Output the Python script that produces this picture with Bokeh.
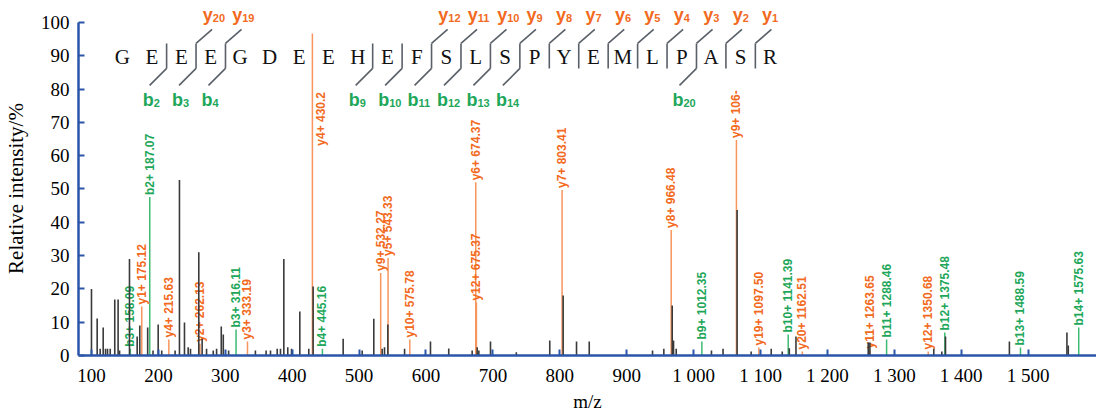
from bokeh.plotting import figure
from bokeh.models import Range1d, FixedTicker
from bokeh.core.properties import value
from bokeh.embed import file_html
from bokeh.resources import INLINE
import math

# ---------------- data ----------------
x_ticks = [100, 200, 300, 400, 500, 600, 700, 800, 900, 1000, 1100, 1200, 1300, 1400, 1500]
x_tick_labels = ["100", "200", "300", "400", "500", "600", "700", "800", "900",
                 "1 000", "1 100", "1 200", "1 300", "1 400", "1 500"]
y_ticks = [0, 10, 20, 30, 40, 50, 60, 70, 80, 90, 100]

# unannotated / raw peaks (m/z, relative intensity %)
peak_mz = [100, 108.5, 113, 117.5, 121, 124, 128, 134.8, 139.8, 142, 156.8, 168.3, 172.2,
           184, 192, 199.7, 205, 225, 231.5, 239, 244.5, 248, 260.4, 265.4, 272, 282, 287,
           294, 297, 305, 345, 361, 367.6, 377.6, 382.5, 387.5, 393.4, 399, 411.4, 424.8,
           431.3, 476.2, 504.6, 522, 534.5, 538, 543, 568, 606.7, 634, 669, 676.5, 679,
           696.4, 735, 785, 805, 825, 844, 938.6, 955.5, 968, 970, 974, 1026.7, 1044,
           1065, 1086, 1116, 1132.5, 1143, 1153, 1261, 1263.5, 1359, 1371, 1376.5, 1472,
           1558, 1560]
peak_int = [20, 11.1, 2, 8.4, 2, 2, 2, 16.8, 16.8, 1.5, 29, 5.7, 9,
            8.4, 1.5, 9.3, 1.5, 1.5, 52.7, 9.9, 2.5, 2, 31, 5, 2, 1.5, 2,
            8.7, 6.3, 1.5, 1.5, 1.5, 1.5, 2, 2, 29, 2.5, 2, 13.2, 2,
            20.7, 5, 1.5, 11, 2, 2.5, 9.3, 2, 4.2, 2.1, 1.5, 2.5, 1.5,
            4.2, 1, 4.5, 18, 4.2, 4.2, 1.5, 2, 15, 4.5, 2, 1.5, 2,
            43.7, 1.2, 2, 1.2, 2.2, 5.7, 3.9, 3.9, 2, 1.2, 5.7, 4.2,
            6.9, 3]

# b-ion annotations
b_labels = ["b3+ 158.09", "b2+ 187.07", "b3+ 316.11", "b4+ 445.16", "b9+ 1012.35",
            "b10+ 1141.39", "b11+ 1288.46", "b12+ 1375.48", "b13+ 1488.59", "b14+ 1575.63"]
b_mz = [158.09, 187.07, 316.11, 445.16, 1012.35, 1141.39, 1288.46, 1375.48, 1488.59, 1575.63]
b_top = [2, 47.6, 7.8, 2, 4.2, 6.3, 4.8, 6.9, 2.4, 8.4]

# y-ion annotations
y_labels = ["y1+ 175.12", "y4+ 215.63", "y2+ 262.13", "y3+ 333.19", "y4+ 430.2",
            "y9+ 532.27", "y5+ 543.33", "y10+ 575.78", "y6+ 674.37", "y12+ 675.37",
            "y7+ 803.41", "y8+ 966.48", "y9+ 106-", "y19+ 1097.50", "y20+ 1162.51",
            "y11+ 1263.65", "y12+ 1350.68"]
y_mz = [175.12, 215.63, 262.13, 333.19, 430.2, 532.27, 543.33, 575.78, 674.37, 675.37,
        803.41, 966.48, 1064.0, 1097.50, 1162.51, 1263.65, 1350.68]
y_top = [14.7, 4.8, 3.5, 4.2, 96.7, 24.8, 29.3, 4.8, 52, 15.9,
         49.7, 37.7, 64.7, 2.4, 1.2, 1.5, 1.2]

# peptide sequence and observed fragment ions
sequence = list("GEEEGDEEHEFSLSPYEMLPASR")
b_series = [2, 3, 4, 9, 10, 11, 12, 13, 14, 20]
y_series = [20, 19, 12, 11, 10, 9, 8, 7, 6, 5, 4, 3, 2, 1]

# ---------------- styles ----------------
AXIS_BLUE = "#2b55a8"
ORANGE_TXT = "#f26a21"
ORANGE_LN = "#f7955c"
GREEN_TXT = "#1ea75a"
GREEN_LN = "#3dbb72"
PEAK = "#3a3a3a"
MARK = "#5a6068"
SERIF = "Liberation Serif"
SANS = "Liberation Sans"

p = figure(width=1096, height=414, x_range=Range1d(80.6, 1602.2), y_range=Range1d(0, 106.6),
           output_backend="svg", toolbar_location=None,
           min_border_left=78, min_border_right=0, min_border_top=0, min_border_bottom=59)
p.xgrid.visible = False
p.ygrid.visible = False
p.outline_line_color = None
p.background_fill_color = "white"
p.border_fill_color = "white"

for ax in (p.xaxis[0], p.yaxis[0]):
    ax.axis_line_color = AXIS_BLUE
    ax.axis_line_width = 2.5
    ax.major_tick_line_color = AXIS_BLUE
    ax.major_tick_line_width = 2
    ax.major_tick_in = 6
    ax.major_tick_out = 0
    ax.minor_tick_line_color = None
    ax.major_label_text_font = SERIF
    ax.major_label_text_font_size = "19px"
    ax.major_label_text_color = "black"
    ax.axis_label_text_font = SERIF
    ax.axis_label_text_font_size = "19px"
    ax.axis_label_text_font_style = "normal"
    ax.axis_label_text_color = "black"

p.xaxis.ticker = FixedTicker(ticks=x_ticks)
p.xaxis.major_label_overrides = {t: l for t, l in zip(x_ticks, x_tick_labels)}
p.xaxis.major_label_standoff = 9
p.xaxis.axis_label = "m/z"
p.xaxis.axis_label_standoff = 2
p.yaxis.ticker = FixedTicker(ticks=y_ticks)
p.yaxis.bounds = (0, 100)
p.yaxis.major_label_standoff = 9
# trailing no-break spaces shift the rotated title down so it centres on the 0-100 axis
p.yaxis.axis_label = "Relative intensity/%" + "\u00a0" * 4
p.yaxis.axis_label_text_font_size = "21px"
p.yaxis.axis_label_standoff = 10

# ---------------- annotation lines + labels ----------------
gap = 0.6
p.segment(x0=b_mz, y0=[0] * len(b_mz), x1=b_mz, y1=b_top, line_color=GREEN_LN, line_width=1.5)
p.segment(x0=y_mz, y0=[0] * len(y_mz), x1=y_mz, y1=y_top, line_color=ORANGE_LN, line_width=1.5)

p.text(x=b_mz, y=[t + gap for t in b_top], text=b_labels, angle=math.pi / 2,
       text_align="left", text_baseline="middle", text_color=GREEN_TXT,
       text_font=value(SANS), text_font_style="bold", text_font_size="12px")

ylx, yly = [], []
for m, t, lab in zip(y_mz, y_top, y_labels):
    if lab == "y4+ 430.2":
        ylx.append(m + 12.5)
        yly.append(63.0)
    else:
        ylx.append(m)
        yly.append(t + gap)
p.text(x=ylx, y=yly, text=y_labels, angle=math.pi / 2,
       text_align="left", text_baseline="middle", text_color=ORANGE_TXT,
       text_font=value(SANS), text_font_style="bold", text_font_size="12px")

# ---------------- raw peaks ----------------
p.segment(x0=peak_mz, y0=[0] * len(peak_mz), x1=peak_mz, y1=peak_int,
          line_color=PEAK, line_width=1.6)

# ---------------- sequence ladder ----------------
seq_x0 = 146.3      # m/z position of first residue
seq_step = 44.0     # m/z spacing between residues
seq_y = 89.5
n = len(sequence)
seq_x = [seq_x0 + i * seq_step for i in range(n)]
p.text(x=seq_x, y=[seq_y] * n, text=sequence, text_align="center", text_baseline="middle",
       text_color="#111111", text_font=value(SERIF), text_font_size="21px")

bar_lo, bar_hi = 86.2, 93.7
gap_x = lambda k: seq_x0 + (k - 0.5) * seq_step
cuts = sorted(set(b_series) | set(n - k for k in y_series))
cx = [gap_x(k) for k in cuts]
p.segment(x0=cx, y0=[bar_lo] * len(cx), x1=cx, y1=[bar_hi] * len(cx),
          line_color=MARK, line_width=1.6)

bx = [gap_x(k) for k in b_series]
p.segment(x0=bx, y0=[bar_lo] * len(bx), x1=[x - 25.4 for x in bx], y1=[bar_lo - 5.1] * len(bx),
          line_color=MARK, line_width=1.6)
yx = [gap_x(n - k) for k in y_series]
p.segment(x0=yx, y0=[bar_hi] * len(yx), x1=[x + 24.0 for x in yx], y1=[bar_hi + 4.2] * len(yx),
          line_color=MARK, line_width=1.6)

# ion names with subscripts
b_anchor = [x - 25.4 + 6 for x in bx]
p.text(x=b_anchor, y=[76.6] * len(bx), text=["b"] * len(bx), text_align="right",
       text_baseline="middle", text_color=GREEN_TXT, text_font=value(SANS),
       text_font_style="bold", text_font_size="18px")
p.text(x=b_anchor, y=[76.6] * len(bx), text=[str(k) for k in b_series], text_align="left",
       text_baseline="middle", y_offset=3, text_color=GREEN_TXT, text_font=value(SANS),
       text_font_style="bold", text_font_size="11px")
y_anchor = [x + 24.0 + 1 for x in yx]
p.text(x=y_anchor, y=[102.1] * len(yx), text=["y"] * len(yx), text_align="right",
       text_baseline="middle", text_color=ORANGE_TXT, text_font=value(SANS),
       text_font_style="bold", text_font_size="18px")
p.text(x=y_anchor, y=[102.1] * len(yx), text=[str(k) for k in y_series], text_align="left",
       text_baseline="middle", y_offset=3, text_color=ORANGE_TXT, text_font=value(SANS),
       text_font_style="bold", text_font_size="11px")

open("out.html", "w").write(file_html(p, INLINE))
